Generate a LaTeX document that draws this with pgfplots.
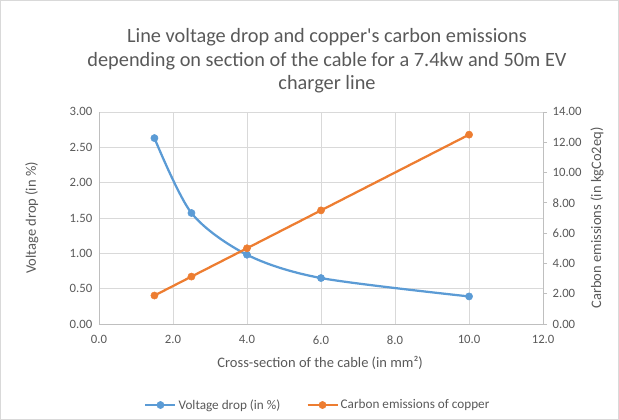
\documentclass[border=0pt]{standalone}
\usepackage{pgfplots}
\pgfplotsset{compat=1.18}
\usepackage{fontspec}
\setmainfont{Carlito}
\definecolor{vblue}{HTML}{5B9BD5}
\definecolor{corange}{HTML}{ED7D31}
\definecolor{gridc}{HTML}{D9D9D9}
\definecolor{axc}{HTML}{BFBFBF}
\definecolor{txt}{HTML}{595959}
\newcommand{\tickfont}{\fontsize{12.7bp}{15bp}\selectfont}
\newcommand{\labfont}{\fontsize{14.5bp}{17bp}\selectfont}
\pgfplotsset{
  common/.style={
    at={(99bp,96bp)}, anchor=south west, scale only axis,
    width=444bp, height=212bp,
    xmin=0, xmax=12,
    /pgf/number format/assume math mode=true,
    tick label style={font=\tickfont, text=txt},
  },
  sty blue/.style={vblue, line width=2.25bp, mark=*, mark size=3.6bp, mark options={fill=vblue, draw=vblue, line width=0.5bp}},
  sty orange/.style={corange, line width=2.25bp, mark=*, mark size=3.6bp, mark options={fill=corange, draw=corange, line width=0.5bp}},
}
\begin{document}
\begin{tikzpicture}
\path[draw=gridc, line width=0.75bp] (0.5bp,0.5bp) rectangle (618.5bp,419.5bp);
\node[text=txt, font=\fontsize{20.3bp}{23.5bp}\selectfont, align=center] at (327bp,359bp)
  {Line voltage drop and copper\textquotesingle s carbon emissions\\depending on section of the cable for a 7.4kw and 50m EV\\charger line};
\begin{axis}[common,
  ymin=0, ymax=3,
  xtick={0,2,4,6,8,10,12}, ytick={0,0.5,1,1.5,2,2.5,3},
  grid=major, major grid style={draw=gridc, line width=0.75bp},
  axis x line=bottom, axis y line=left,
  axis line style={draw=axc, line width=0.75bp, -},
  tick style={draw=none},
  xticklabel style={yshift=-6bp, /pgf/number format/.cd, fixed, fixed zerofill, precision=1},
  yticklabel style={xshift=-1bp, /pgf/number format/.cd, fixed, fixed zerofill, precision=2},
  xlabel={Cross-section of the cable (in mm²)},
  ylabel={Voltage drop (in \%)},
  xlabel style={at={(axis description cs:0.498,-0.184)}, anchor=center, font=\labfont, text=txt},
  ylabel style={at={(axis description cs:-0.151,0.5)}, anchor=center, font=\labfont, text=txt},
]
\addplot[sty blue, smooth] coordinates {(1.5,2.63) (2.5,1.57) (4,0.98) (6,0.65) (10,0.39)};
\end{axis}
\begin{axis}[common,
  ymin=0, ymax=14,
  ytick={0,2,4,6,8,10,12,14},
  axis x line=none, axis y line=right,
  axis line style={draw=axc, line width=0.75bp, -},
  tick align=outside, major tick length=4bp,
  tick style={draw=axc, line width=0.75bp},
  yticklabel style={xshift=2bp, /pgf/number format/.cd, fixed, fixed zerofill, precision=2},
  ylabel={Carbon emissions (in kgCo2eq)},
  ylabel style={at={(axis description cs:1.1216,0.5)}, anchor=center, font=\labfont, text=txt},
  legend columns=2,
  legend style={draw=none, fill=none, at={(axis description cs:0.493,-0.382)}, anchor=center,
    font=\fontsize{13.2bp}{15bp}\selectfont, text=txt,
    /tikz/every even column/.append style={column sep=24bp}},
  legend image code/.code={\draw[mark repeat=2, mark phase=2, #1] plot coordinates {(0bp,0bp) (15bp,0bp) (30bp,0bp)};},
]
\addlegendimage{sty blue}
\addlegendentry{Voltage drop (in \%)}
\addplot[sty orange] coordinates {(1.5,1.88) (2.5,3.13) (4,5.0) (6,7.5) (10,12.5)};
\addlegendentry{Carbon emissions of copper}
\end{axis}
\end{tikzpicture}
\end{document}
